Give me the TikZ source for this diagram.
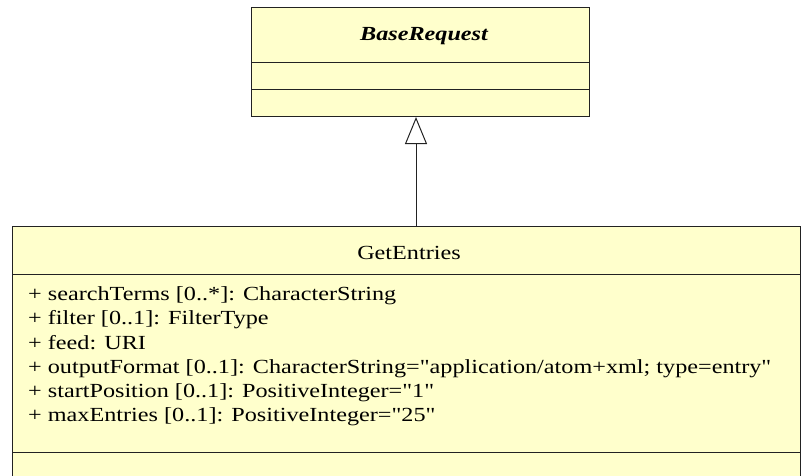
\documentclass[tikz,border=0pt]{standalone}
\usepackage{fontspec}
\setmainfont{Liberation Serif}[Ligatures=TeXOff, FakeStretch=1.21]
\usetikzlibrary{arrows.meta}
\definecolor{classfill}{HTML}{FFFFCC}
\definecolor{classline}{HTML}{222222}
\tikzset{
  umlclass/.style={draw=classline, fill=classfill, line width=1pt, inner sep=0pt},
  divider/.style={draw=classline, line width=1pt},
  umltext/.style={font=\fontsize{20}{24.2}\selectfont, inner sep=0pt},
  generalization/.style={draw=classline, line width=1pt, -{Triangle[open, length=27pt, width=22pt]}}
}
\begin{document}
\begin{tikzpicture}[x=1pt, y=-1pt]
  \useasboundingbox (0,0) rectangle (802,475);
  % abstract parent class
  \node[umlclass, minimum width=338pt, minimum height=109pt, anchor=north west] (base) at (251,7) {};
  \draw[divider] (251,62) -- (589,62);
  \draw[divider] (251,89) -- (589,89);
  \node[umltext, font=\fontsize{20}{24.2}\selectfont\bfseries\itshape, anchor=base] (basename) at (424,40) {BaseRequest};
  % request class
  \node[umlclass, minimum width=788pt, minimum height=260pt, anchor=north west] (entries) at (12,226) {};
  \draw[divider] (12,274) -- (800,274);
  \draw[divider] (12,452) -- (800,452);
  \node[umltext, anchor=base] (entriesname) at (409,259) {GetEntries};
  % attributes, anchored at the baseline of the last line
  \node[umltext, align=left, anchor=base west] (attrs) at (28,421.7)
    {+ searchTerms [0..*]: CharacterString\\
     + filter [0..1]: FilterType\\
     + feed: URI\\
     + outputFormat [0..1]: CharacterString="application/atom+xml; type=entry"\\
     + startPosition [0..1]: PositiveInteger="1"\\
     + maxEntries [0..1]: PositiveInteger="25"};
  \coordinate (arrowtail) at (entries.north -| 416,0);
  \coordinate (arrowhead) at (base.south -| 416,0);
  \draw[generalization] (arrowtail) -- (arrowhead);
\end{tikzpicture}
\end{document}
